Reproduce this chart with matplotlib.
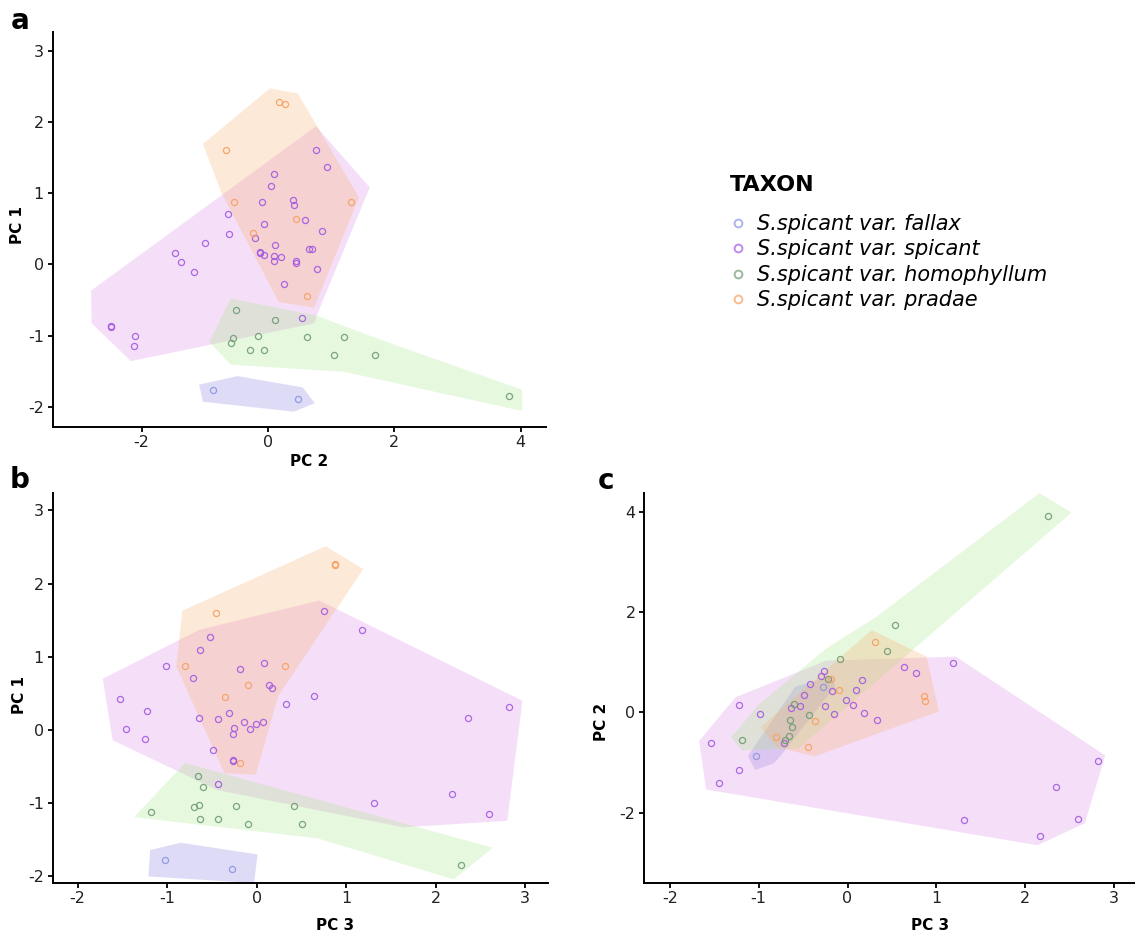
import numpy as np
import matplotlib
matplotlib.use("Agg")
import matplotlib.pyplot as plt
from matplotlib.lines import Line2D

plt.rcParams["axes.unicode_minus"] = False

W, H = 1135, 934

taxa = ["S.spicant var. fallax", "S.spicant var. spicant",
        "S.spicant var. homophyllum", "S.spicant var. pradae"]
point_cols = ["#8a96e2", "#a25ae0", "#6e9c74", "#f6a060"]
fill_cols = ["#8a7fe0", "#dc8ee6", "#a6e88a", "#fab070"]

# panel a: PC 2 (x) vs PC 1 (y)
a_fallax = [(-0.87, -1.76), (0.47, -1.89)]
a_spicant = [(0.76, 1.60), (0.94, 1.37), (0.10, 1.27), (0.04, 1.10), (-0.10, 0.88),
             (0.39, 0.91), (0.41, 0.84), (-0.63, 0.70), (-0.07, 0.57), (0.59, 0.62),
             (-0.62, 0.43), (0.86, 0.47), (-1.00, 0.30), (-0.20, 0.37), (0.11, 0.27),
             (-1.47, 0.16), (-0.13, 0.17), (-0.12, 0.16), (-0.06, 0.13), (0.10, 0.12),
             (0.21, 0.10), (0.09, 0.05), (0.65, 0.22), (0.69, 0.22), (-1.38, 0.03),
             (0.44, 0.05), (0.45, 0.02), (-1.17, -0.11), (0.77, -0.06), (0.26, -0.28),
             (0.54, -0.75), (-2.48, -0.86), (-2.48, -0.88), (-2.11, -1.00), (-2.12, -1.15)]
a_homoph = [(-0.50, -0.64), (0.11, -0.78), (-0.56, -1.04), (-0.59, -1.11), (-0.16, -1.01),
            (-0.28, -1.21), (-0.07, -1.20), (0.61, -1.02), (1.20, -1.02), (1.05, -1.28),
            (1.70, -1.28), (3.81, -1.85)]
a_pradae = [(0.17, 2.28), (0.27, 2.25), (-0.67, 1.60), (-0.54, 0.88), (1.31, 0.87),
            (0.45, 0.63), (-0.23, 0.44), (0.62, -0.45)]

# hull outlines of panel a
a_fallax_hull = [(-1.09, -1.69), (-0.48, -1.57), (0.55, -1.73), (0.74, -1.95),
                 (0.41, -2.07), (-1.03, -1.93)]
a_spicant_hull = [(-2.80, -0.37), (-2.79, -0.83), (-2.17, -1.36), (0.73, -0.83),
                  (0.78, -0.70), (1.61, 1.08), (0.76, 1.94)]
a_homoph_hull = [(-0.59, -0.48), (0.76, -0.72), (1.97, -1.12), (4.02, -1.76),
                 (4.02, -2.06), (1.21, -1.51), (-0.59, -1.41), (-0.93, -1.09)]
a_pradae_hull = [(-1.03, 1.69), (0.03, 2.47), (0.47, 2.40), (1.44, 0.94),
                 (0.73, -0.61), (0.17, -0.53), (-0.73, 0.99)]

# panel b: PC 3 (x) vs PC 1 (y)
b_fallax = [(-1.02, -1.77), (-0.28, -1.90)]
b_spicant = [(0.75, 1.63), (1.18, 1.37), (-0.52, 1.27), (-0.63, 1.09), (-1.01, 0.88),
             (0.08, 0.91), (-0.19, 0.83), (-0.71, 0.71), (0.14, 0.61), (0.17, 0.57),
             (0.64, 0.46), (0.33, 0.36), (-1.53, 0.42), (-1.22, 0.26), (2.82, 0.31),
             (2.36, 0.16), (-1.46, 0.02), (-1.25, -0.12), (-0.64, 0.17), (-0.43, 0.15),
             (-0.31, 0.23), (-0.14, 0.11), (-0.01, 0.08), (0.07, 0.11), (-0.25, 0.03),
             (-0.07, 0.01), (-0.27, -0.06), (-0.49, -0.27), (-0.27, -0.41), (-0.27, -0.42),
             (-0.43, -0.74), (2.18, -0.87), (1.31, -1.00), (2.59, -1.15)]
b_homoph = [(-0.66, -0.63), (-0.60, -0.78), (-0.65, -1.03), (-0.70, -1.05), (-1.18, -1.12),
            (-0.63, -1.21), (-0.43, -1.21), (-0.23, -1.04), (-0.10, -1.29), (0.42, -1.04),
            (0.51, -1.28), (2.28, -1.84)]
b_pradae = [(0.87, 2.27), (0.88, 2.26), (-0.45, 1.60), (-0.80, 0.88), (0.32, 0.88),
            (-0.10, 0.61), (-0.35, 0.45), (-0.19, -0.45)]

b_fallax_hull = [(-1.19, -1.64), (-0.85, -1.54), (0.01, -1.70), (-0.03, -2.09),
                 (-1.21, -2.00)]
b_spicant_hull = [(-1.72, 0.70), (-1.61, -0.14), (-0.44, -0.82), (1.64, -1.33),
                  (2.80, -1.24), (2.97, 0.40), (0.70, 1.77), (-0.64, 1.37)]
b_homoph_hull = [(-0.80, -0.45), (2.64, -1.61), (2.20, -2.04), (0.68, -1.48),
                 (-1.37, -1.19)]
b_pradae_hull = [(-0.83, 1.63), (0.77, 2.51), (1.19, 2.20), (0.24, 0.46),
                 (-0.01, -0.61), (-0.36, -0.59), (-0.90, 0.87)]

# panel c: PC 3 (x) vs PC 2 (y)
c_fallax = [(-1.03, -0.87), (-0.28, 0.50)]
c_spicant = [(0.63, 0.91), (0.77, 0.79), (-0.27, 0.83), (-0.30, 0.72), (0.16, 0.64),
             (-0.42, 0.56), (-0.18, 0.43), (0.09, 0.44), (-0.49, 0.34), (-0.02, 0.25),
             (0.06, 0.15), (-0.64, 0.09), (-0.53, 0.13), (-0.25, 0.12), (-1.22, 0.14),
             (-0.98, -0.04), (-0.15, -0.03), (0.19, -0.02), (0.33, -0.16), (-1.54, -0.61),
             (-0.72, -0.61), (-1.22, -1.15), (1.19, 0.98), (-1.45, -1.41), (2.82, -0.98),
             (2.35, -1.48), (1.31, -2.15), (2.59, -2.12), (2.16, -2.46)]
c_homoph = [(2.26, 3.91), (0.53, 1.75), (0.44, 1.23), (-0.08, 1.07), (-0.22, 0.66),
            (-0.60, 0.17), (-0.43, -0.05), (-0.65, -0.16), (-0.63, -0.30), (-0.66, -0.47),
            (-1.19, -0.56), (-0.70, -0.56)]
c_pradae = [(0.31, 1.40), (-0.19, 0.66), (0.86, 0.32), (0.87, 0.22), (-0.37, -0.18),
            (-0.81, -0.49), (-0.44, -0.69), (-0.10, 0.45)]

c_fallax_hull = [(-1.12, -0.87), (-0.59, 0.51), (-0.18, 0.72), (-0.14, 0.51),
                 (-0.75, -0.86), (-0.83, -1.02), (-1.04, -1.15)]
c_spicant_hull = [(-1.67, -0.57), (-1.59, -1.54), (2.14, -2.65), (2.67, -2.21),
                  (2.90, -0.86), (1.22, 1.11), (-0.24, 1.03), (-1.26, 0.30)]
c_homoph_hull = [(-1.31, -0.50), (-1.00, 0.15), (-0.24, 1.27), (0.33, 1.91),
                 (2.16, 4.37), (2.52, 3.98), (-0.55, -0.72), (-1.19, -0.76)]
c_pradae_hull = [(0.27, 1.64), (0.89, 1.11), (1.03, 0.02), (-0.37, -0.88),
                 (-0.80, -0.69), (-0.98, -0.30)]


def make_axes(fig, left, right, top, bottom, xlim, ylim):
    ax = fig.add_axes([left / W, 1 - bottom / H, (right - left) / W, (bottom - top) / H])
    ax.set_xlim(*xlim)
    ax.set_ylim(*ylim)
    for s in ["top", "right"]:
        ax.spines[s].set_visible(False)
    for s in ["left", "bottom"]:
        ax.spines[s].set_linewidth(1.4)
    ax.tick_params(direction="out", length=3.8, width=1.3, labelsize=11.5,
                   labelcolor="#222222", pad=2.5)
    return ax


def panel(ax, hulls, groups, xl, yl, xlab_px, ylab_px, box):
    left, right, top, bottom = box
    for poly, fc in zip(hulls, fill_cols):
        arr = np.array(poly)
        ax.fill(arr[:, 0], arr[:, 1], color=fc, alpha=0.28, lw=0, zorder=1)
    for pts, pc in zip(groups, point_cols):
        arr = np.array(pts)
        ax.plot(arr[:, 0], arr[:, 1], "o", ms=4.4, mfc="none", mec=pc, mew=0.9,
                alpha=0.9, zorder=3)
    ax.set_xlabel(xl, fontweight="bold", fontsize=11, va="center")
    ax.set_ylabel(yl, fontweight="bold", fontsize=11, va="center")
    ax.xaxis.set_label_coords((xlab_px[0] - left) / (right - left),
                              (bottom - xlab_px[1]) / (bottom - top))
    ax.yaxis.set_label_coords((ylab_px[0] - left) / (right - left),
                              (bottom - ylab_px[1]) / (bottom - top))


fig = plt.figure(figsize=(W / 100, H / 100), dpi=100)

box_a = (52.7, 546, 31.7, 426.5)
ax_a = make_axes(fig, *box_a, (-3.407, 4.399), (-2.278, 3.267))
ax_a.set_xticks([-2, 0, 2, 4])
ax_a.set_yticks([-2, -1, 0, 1, 2, 3])
panel(ax_a, [a_fallax_hull, a_spicant_hull, a_homoph_hull, a_pradae_hull],
      [a_fallax, a_spicant, a_homoph, a_pradae], "PC 2", "PC 1",
      (309, 461), (17.7, 225), box_a)

box_b = (52.7, 548.3, 493.3, 882.7)
ax_b = make_axes(fig, *box_b, (-2.279, 3.258), (-2.086, 3.234))
ax_b.set_xticks([-2, -1, 0, 1, 2, 3])
ax_b.set_yticks([-2, -1, 0, 1, 2, 3])
panel(ax_b, [b_fallax_hull, b_spicant_hull, b_homoph_hull, b_pradae_hull],
      [b_fallax, b_spicant, b_homoph, b_pradae], "PC 3", "PC 1",
      (335, 926), (19, 695), box_b)

box_c = (644.3, 1135, 493.3, 882.7)
ax_c = make_axes(fig, *box_c, (-2.286, 3.234), (-3.396, 4.365))
ax_c.set_xticks([-2, -1, 0, 1, 2, 3])
ax_c.set_yticks([-2, 0, 2, 4])
panel(ax_c, [c_fallax_hull, c_spicant_hull, c_homoph_hull, c_pradae_hull],
      [c_fallax, c_spicant, c_homoph, c_pradae], "PC 3", "PC 2",
      (930, 926), (601.7, 722), box_c)

for lab, (px, py) in zip("abc", [(20, 21), (20, 480), (606, 481)]):
    fig.text(px / W, 1 - py / H, lab, fontsize=20, fontweight="bold",
             ha="center", va="center")

# legend
fig.text(730 / W, 1 - 185 / H, "TAXON", fontsize=16, fontweight="bold",
         ha="left", va="center")
handles = [Line2D([], [], ls="", marker="o", ms=5.6, mfc="none", mec=c, mew=1.4, alpha=0.7)
           for c in point_cols]
fig.legend(handles, taxa, loc="upper left", bbox_to_anchor=(730 / W, 1 - 214 / H),
           frameon=False, borderpad=0, borderaxespad=0, handlelength=0.8,
           handletextpad=0.5, labelspacing=0.26, prop={"style": "italic", "size": 15})

fig.savefig("out.png", dpi=100)
